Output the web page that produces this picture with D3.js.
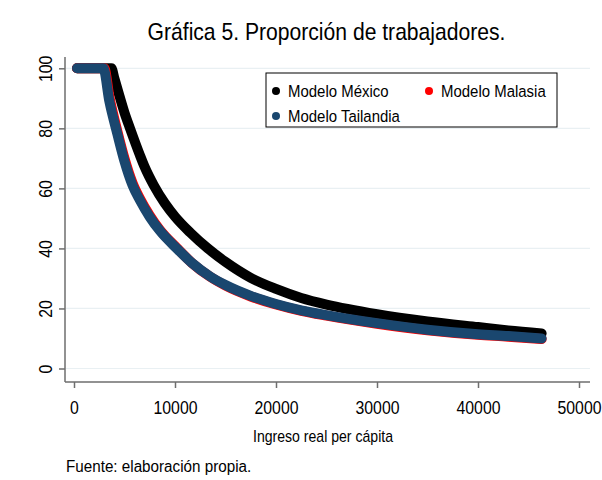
<!DOCTYPE html>
<html>
<head>
<meta charset="utf-8">
<script src="https://cdn.jsdelivr.net/npm/d3@7"></script>
<style>
  body { margin: 0; background: #fff; }
  svg text { font-family: "Liberation Sans Narrow", "Arial Narrow", "Liberation Sans", Arial, sans-serif; fill: #000; }
</style>
</head>
<body>
<div class="chart"></div>
<script>
// valores
const mexicoX = [300, 1500, 3000, 3700, 4000, 4500, 5000, 5545, 6500, 7000, 7900, 9000, 10000, 11500, 13250, 15000, 17500, 20000, 22500, 25000, 30000, 35000, 40000, 43000, 46300];
const mexicoY = [100, 100, 100, 100, 96.6, 90.8, 85.2, 80, 71.3, 67.1, 61, 55, 50.6, 45.3, 40, 35.5, 30.2, 26.5, 23.5, 21.3, 18.1, 15.7, 13.8, 12.7, 11.7];

const malasiaX = [300, 1500, 3000, 3500, 4300, 5000, 5800, 6500, 7500, 8500, 10170, 11700, 13500, 15000, 17500, 20000, 22500, 25000, 30000, 35000, 40000, 43000, 46300];
const malasiaY = [100, 100, 100, 90.5, 79, 70, 61.8, 56.8, 51, 46.2, 40.2, 35.1, 30.5, 27.6, 24, 21.3, 19.2, 17.6, 14.9, 12.7, 11.2, 10.6, 9.8];

const tailandiaX = [300, 1500, 2900, 3500, 4300, 5000, 5800, 6500, 7500, 8500, 10170, 11700, 13500, 15000, 17500, 20000, 22500, 25000, 30000, 35000, 40000, 43000, 46300];
const tailandiaY = [100, 100, 100, 89, 78, 69, 61, 56.2, 50.5, 45.9, 40, 35.1, 30.6, 27.8, 24.2, 21.5, 19.4, 17.8, 15.1, 12.9, 11.4, 10.8, 10];

const xTicks = [0, 10000, 20000, 30000, 40000, 50000];
const yTicks = [0, 20, 40, 60, 80, 100];

const series = [
  { name: 'Modelo México', xs: mexicoX, ys: mexicoY, color: '#000000' },
  { name: 'Modelo Malasia', xs: malasiaX, ys: malasiaY, color: '#ff0000' },
  { name: 'Modelo Tailandia', xs: tailandiaX, ys: tailandiaY, color: '#1a476f' }
];

const outerW = 602, outerH = 480;
const plot = { left: 65, right: 590, top: 57, bottom: 382 };
const narrow = 0.88; // letra condensada

const x = d3.scaleLinear().domain([0, 50000]).range([74, 579]);
const y = d3.scaleLinear().domain([0, 100]).range([368.5, 68.3]);

const svg = d3.select('.chart').append('svg')
  .attr('width', outerW)
  .attr('height', outerH);

function addText(px, py, str, size, anchor) {
  return svg.append('text')
    .attr('transform', `translate(${px},${py}) scale(${narrow},1)`)
    .attr('text-anchor', anchor || 'start')
    .style('font-size', size + 'px')
    .text(str);
}

// grid
svg.append('g')
  .selectAll('line')
  .data(yTicks)
  .enter()
  .append('line')
  .attr('x1', plot.left + 1)
  .attr('x2', plot.right)
  .attr('y1', d => y(d))
  .attr('y2', d => y(d))
  .attr('stroke', '#e9f0f3')
  .attr('stroke-width', 1.2);

// axes
const yAxis = svg.append('g')
  .attr('transform', `translate(${plot.left},0)`)
  .call(d3.axisLeft(y).tickValues(yTicks).tickSize(6).tickFormat(d3.format('d')));
yAxis.select('.domain').attr('d', `M0,${plot.top}V${plot.bottom}`);
yAxis.selectAll('text')
  .attr('x', null).attr('y', null).attr('dy', null)
  .attr('transform', `translate(-13,0) rotate(-90) scale(${narrow},1)`)
  .attr('text-anchor', 'middle')
  .style('font-size', '18px');

const xAxis = svg.append('g')
  .attr('transform', `translate(0,${plot.bottom})`)
  .call(d3.axisBottom(x).tickValues(xTicks).tickSize(6).tickFormat(d3.format('d')));
xAxis.select('.domain').attr('d', `M${plot.left},0H${plot.right}`);
xAxis.selectAll('text')
  .attr('y', null).attr('dy', null)
  .attr('transform', `translate(0,32) scale(${narrow},1)`)
  .style('font-size', '18px');

svg.selectAll('.domain, .tick line')
  .attr('stroke', '#6e6e6e')
  .attr('stroke-width', 1.5);

// series (drawn in order, Tailandia on top)
const line = d3.line()
  .x(d => x(d[0]))
  .y(d => y(d[1]))
  .curve(d3.curveMonotoneX);

series.forEach(s => {
  const pts = s.xs.map((v, i) => [v, s.ys[i]]);
  svg.append('path')
    .datum(pts)
    .attr('d', line)
    .attr('fill', 'none')
    .attr('stroke', s.color)
    .attr('stroke-width', 10)
    .attr('stroke-linecap', 'round')
    .attr('stroke-linejoin', 'round');
});

// legend
svg.append('rect')
  .attr('x', 266).attr('y', 73)
  .attr('width', 291).attr('height', 54)
  .attr('fill', '#fff')
  .attr('stroke', '#000')
  .attr('stroke-width', 1);

const legendPos = [[276, 91], [429, 91], [276, 116]];
series.forEach((s, i) => {
  const [lx, ly] = legendPos[i];
  svg.append('circle')
    .attr('cx', lx).attr('cy', ly).attr('r', 4)
    .attr('fill', s.color);
  addText(lx + 12, ly + 6, s.name, 17);
});

// titles
addText(326.5, 40, 'Gráfica 5. Proporción de trabajadores.', 24, 'middle');
addText(323, 442, 'Ingreso real per cápita', 16, 'middle');
addText(66, 472, 'Fuente: elaboración propia.', 17.3);
</script>
</body>
</html>
